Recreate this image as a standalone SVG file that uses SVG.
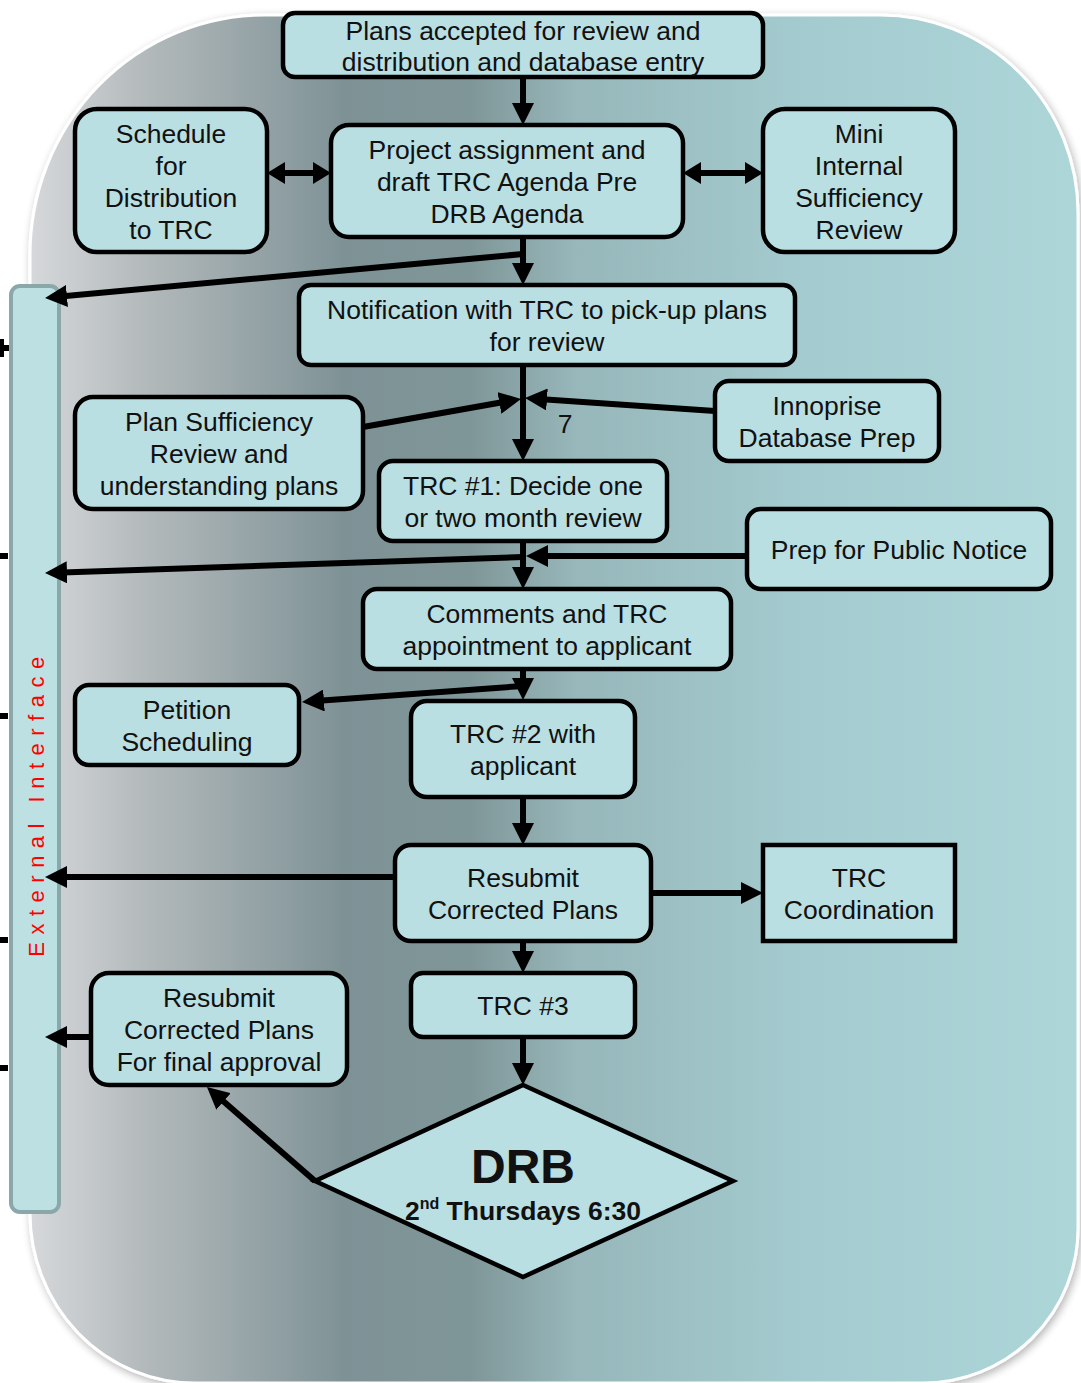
<svg xmlns="http://www.w3.org/2000/svg" width="1081" height="1383" viewBox="0 0 1081 1383">
<defs>
<linearGradient id="bg" x1="30" y1="0" x2="1078" y2="0" gradientUnits="userSpaceOnUse">
<stop offset="0" stop-color="#d6d8da"/>
<stop offset="0.12" stop-color="#b0b7b9"/>
<stop offset="0.3" stop-color="#7e9296"/>
<stop offset="0.42" stop-color="#7f9698"/>
<stop offset="0.52" stop-color="#97b7ba"/>
<stop offset="0.75" stop-color="#a4ccd0"/>
<stop offset="1" stop-color="#add6d9"/>
</linearGradient>
<filter id="sh" x="-5%" y="-5%" width="110%" height="110%">
<feGaussianBlur in="SourceAlpha" stdDeviation="4"/>
<feOffset dx="2" dy="3"/>
<feComponentTransfer><feFuncA type="linear" slope="0.3"/></feComponentTransfer>
<feMerge><feMergeNode/><feMergeNode in="SourceGraphic"/></feMerge>
</filter>
<marker id="ah" markerUnits="userSpaceOnUse" markerWidth="22" markerHeight="22" viewBox="0 0 22 22" refX="12" refY="11" orient="auto-start-reverse">
<path d="M0,0 L22,11 L0,22 z" fill="#000"/>
</marker>
<marker id="ahs" markerUnits="userSpaceOnUse" markerWidth="18" markerHeight="22" viewBox="0 0 18 22" refX="8" refY="11" orient="auto-start-reverse">
<path d="M0,0 L18,11 L0,22 z" fill="#000"/>
</marker>
<style>
.box{fill:#b9dfe3;stroke:#000;stroke-width:4.5}
.t{font-family:"Liberation Sans",Arial,sans-serif;font-size:26.5px;fill:#111;text-anchor:middle}
.b{font-weight:bold}
.c{fill:none;stroke:#000;stroke-width:6;marker-end:url(#ah)}
.cs{fill:none;stroke:#000;stroke-width:6;marker-end:url(#ahs);marker-start:url(#ahs)}
</style>
</defs>

<g id="background">
<path d="M265,15 H880 A198,198 0 0 1 1078,213 V1228 A155,155 0 0 1 923,1383 H195 A165,170 0 0 1 30,1213 V255 A235,240 0 0 1 265,15 Z" fill="url(#bg)" stroke="#ffffff" stroke-width="3" filter="url(#sh)"/>
</g>

<g id="edge-ticks" fill="#000">
<rect x="0" y="345" width="9" height="6"/>
<rect x="0" y="339" width="4" height="18"/>
<rect x="0" y="553" width="8" height="6"/>
<rect x="0" y="713" width="8" height="6"/>
<rect x="0" y="937" width="8" height="6"/>
<rect x="0" y="1065" width="8" height="6"/>
</g>

<g id="external-interface">
<rect x="11" y="286" width="48" height="926" rx="9" fill="#bde0e3" stroke="#8aa8aa" stroke-width="4"/>
<text transform="translate(44,803) rotate(-90)" font-family="'Liberation Sans',Arial,sans-serif" font-size="22" fill="#ff0000" text-anchor="middle" letter-spacing="7.5">External Interface</text>
</g>

<g id="connectors">
<path class="c" d="M523,77 V115"/>
<path class="cs" d="M277,173 H321"/>
<path class="cs" d="M693,173 H753"/>
<path class="c" d="M523,237 V275"/>
<path class="c" d="M523,254 L55,297.1"/>
<path class="c" d="M523,365 V451"/>
<path class="c" d="M363,427 L511.2,400.7"/>
<path class="c" d="M715,411 L535,398.7"/>
<path class="c" d="M523,541 V579"/>
<path class="c" d="M747,556 H536"/>
<path class="c" d="M523,557 L55,572.7"/>
<path class="c" d="M523,669 V690"/>
<path class="c" d="M523,686 L312,701.3"/>
<path class="c" d="M523,797 V835"/>
<path class="c" d="M395,877 H55"/>
<path class="c" d="M651,893 H753"/>
<path class="c" d="M523,941 V963"/>
<path class="c" d="M523,1037 V1075"/>
<path class="c" d="M315,1181 L214.5,1093.6" stroke-width="8"/>
<path class="c" d="M91,1037 H55"/>
<text class="t" x="565" y="433">7</text>
</g>

<g id="n1"><rect class="box" x="283" y="13" width="480" height="64" rx="12"/>
<text class="t" x="523" y="40">Plans accepted for review and</text>
<text class="t" x="523" y="71">distribution and database entry</text></g>

<g id="n2"><rect class="box" x="75" y="109" width="192" height="143" rx="22"/>
<text class="t" x="171" y="143">Schedule</text>
<text class="t" x="171" y="175">for</text>
<text class="t" x="171" y="207">Distribution</text>
<text class="t" x="171" y="239">to TRC</text></g>

<g id="n3"><rect class="box" x="331" y="125" width="352" height="112" rx="18"/>
<text class="t" x="507" y="159">Project assignment and</text>
<text class="t" x="507" y="191">draft TRC Agenda Pre</text>
<text class="t" x="507" y="223">DRB Agenda</text></g>

<g id="n4"><rect class="box" x="763" y="109" width="192" height="143" rx="22"/>
<text class="t" x="859" y="143">Mini</text>
<text class="t" x="859" y="175">Internal</text>
<text class="t" x="859" y="207">Sufficiency</text>
<text class="t" x="859" y="239">Review</text></g>

<g id="n5"><rect class="box" x="299" y="285" width="496" height="80" rx="12"/>
<text class="t" x="547" y="319">Notification with TRC to pick-up plans</text>
<text class="t" x="547" y="351">for review</text></g>

<g id="n6"><rect class="box" x="75" y="397" width="288" height="112" rx="18"/>
<text class="t" x="219" y="431">Plan Sufficiency</text>
<text class="t" x="219" y="463">Review and</text>
<text class="t" x="219" y="495">understanding plans</text></g>

<g id="n7"><rect class="box" x="715" y="381" width="224" height="80" rx="14"/>
<text class="t" x="827" y="415">Innoprise</text>
<text class="t" x="827" y="447">Database Prep</text></g>

<g id="n8"><rect class="box" x="379" y="461" width="288" height="80" rx="14"/>
<text class="t" x="523" y="495">TRC #1: Decide one</text>
<text class="t" x="523" y="527">or two month review</text></g>

<g id="n9"><rect class="box" x="747" y="509" width="304" height="80" rx="14"/>
<text class="t" x="899" y="559">Prep for Public Notice</text></g>

<g id="n10"><rect class="box" x="363" y="589" width="368" height="80" rx="14"/>
<text class="t" x="547" y="623">Comments and TRC</text>
<text class="t" x="547" y="655">appointment to applicant</text></g>

<g id="n11"><rect class="box" x="75" y="685" width="224" height="80" rx="14"/>
<text class="t" x="187" y="719">Petition</text>
<text class="t" x="187" y="751">Scheduling</text></g>

<g id="n12"><rect class="box" x="411" y="701" width="224" height="96" rx="16"/>
<text class="t" x="523" y="743">TRC #2 with</text>
<text class="t" x="523" y="775">applicant</text></g>

<g id="n13"><rect class="box" x="395" y="845" width="256" height="96" rx="16"/>
<text class="t" x="523" y="887">Resubmit</text>
<text class="t" x="523" y="919">Corrected Plans</text></g>

<g id="n14"><rect class="box" x="763" y="845" width="192" height="96"/>
<text class="t" x="859" y="887">TRC</text>
<text class="t" x="859" y="919">Coordination</text></g>

<g id="n15"><rect class="box" x="411" y="973" width="224" height="64" rx="12"/>
<text class="t" x="523" y="1015">TRC #3</text></g>

<g id="n16"><rect class="box" x="91" y="973" width="256" height="112" rx="18"/>
<text class="t" x="219" y="1007">Resubmit</text>
<text class="t" x="219" y="1039">Corrected Plans</text>
<text class="t" x="219" y="1071">For final approval</text></g>

<g id="n17-drb"><polygon class="box" points="523,1085 733,1181 523,1277 315,1181" stroke-linejoin="miter"/>
<text class="t b" x="523" y="1183" style="font-size:48px">DRB</text>
<text class="t b" x="523" y="1220">2<tspan font-size="16" dy="-11">nd</tspan><tspan dy="11"> Thursdays 6:30</tspan></text></g>
</svg>
